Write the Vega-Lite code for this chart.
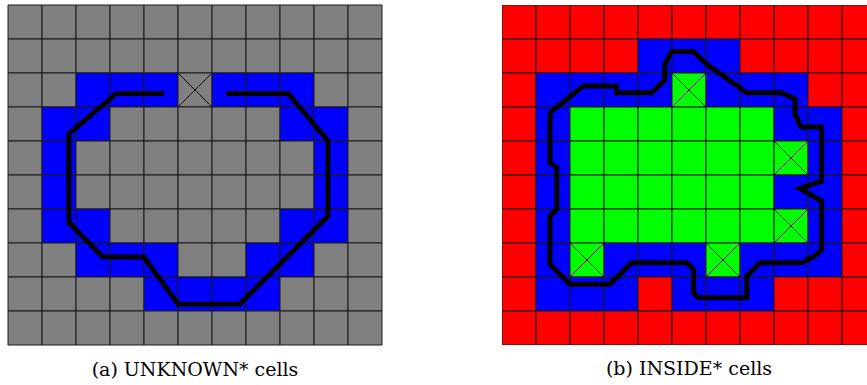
{
"$schema": "https://vega.github.io/schema/vega-lite/v6.json",
"padding": {"left": 7, "top": 4, "right": 0, "bottom": 0},
"config": {"view": {"stroke": null}},
"spacing": 119,
"resolve": {"scale": {"x": "independent", "y": "independent"}},
"datasets": {
"gridA": [
{"c":0,"r":0,"s":"unknown"},{"c":1,"r":0,"s":"unknown"},{"c":2,"r":0,"s":"unknown"},{"c":3,"r":0,"s":"unknown"},{"c":4,"r":0,"s":"unknown"},{"c":5,"r":0,"s":"unknown"},{"c":6,"r":0,"s":"unknown"},{"c":7,"r":0,"s":"unknown"},{"c":8,"r":0,"s":"unknown"},{"c":9,"r":0,"s":"unknown"},{"c":10,"r":0,"s":"unknown"},
{"c":0,"r":1,"s":"unknown"},{"c":1,"r":1,"s":"unknown"},{"c":2,"r":1,"s":"unknown"},{"c":3,"r":1,"s":"unknown"},{"c":4,"r":1,"s":"unknown"},{"c":5,"r":1,"s":"unknown"},{"c":6,"r":1,"s":"unknown"},{"c":7,"r":1,"s":"unknown"},{"c":8,"r":1,"s":"unknown"},{"c":9,"r":1,"s":"unknown"},{"c":10,"r":1,"s":"unknown"},
{"c":0,"r":2,"s":"unknown"},{"c":1,"r":2,"s":"unknown"},{"c":2,"r":2,"s":"border"},{"c":3,"r":2,"s":"border"},{"c":4,"r":2,"s":"border"},{"c":5,"r":2,"s":"unknown"},{"c":6,"r":2,"s":"border"},{"c":7,"r":2,"s":"border"},{"c":8,"r":2,"s":"border"},{"c":9,"r":2,"s":"unknown"},{"c":10,"r":2,"s":"unknown"},
{"c":0,"r":3,"s":"unknown"},{"c":1,"r":3,"s":"border"},{"c":2,"r":3,"s":"border"},{"c":3,"r":3,"s":"unknown"},{"c":4,"r":3,"s":"unknown"},{"c":5,"r":3,"s":"unknown"},{"c":6,"r":3,"s":"unknown"},{"c":7,"r":3,"s":"unknown"},{"c":8,"r":3,"s":"border"},{"c":9,"r":3,"s":"border"},{"c":10,"r":3,"s":"unknown"},
{"c":0,"r":4,"s":"unknown"},{"c":1,"r":4,"s":"border"},{"c":2,"r":4,"s":"unknown"},{"c":3,"r":4,"s":"unknown"},{"c":4,"r":4,"s":"unknown"},{"c":5,"r":4,"s":"unknown"},{"c":6,"r":4,"s":"unknown"},{"c":7,"r":4,"s":"unknown"},{"c":8,"r":4,"s":"unknown"},{"c":9,"r":4,"s":"border"},{"c":10,"r":4,"s":"unknown"},
{"c":0,"r":5,"s":"unknown"},{"c":1,"r":5,"s":"border"},{"c":2,"r":5,"s":"unknown"},{"c":3,"r":5,"s":"unknown"},{"c":4,"r":5,"s":"unknown"},{"c":5,"r":5,"s":"unknown"},{"c":6,"r":5,"s":"unknown"},{"c":7,"r":5,"s":"unknown"},{"c":8,"r":5,"s":"unknown"},{"c":9,"r":5,"s":"border"},{"c":10,"r":5,"s":"unknown"},
{"c":0,"r":6,"s":"unknown"},{"c":1,"r":6,"s":"border"},{"c":2,"r":6,"s":"border"},{"c":3,"r":6,"s":"unknown"},{"c":4,"r":6,"s":"unknown"},{"c":5,"r":6,"s":"unknown"},{"c":6,"r":6,"s":"unknown"},{"c":7,"r":6,"s":"unknown"},{"c":8,"r":6,"s":"border"},{"c":9,"r":6,"s":"border"},{"c":10,"r":6,"s":"unknown"},
{"c":0,"r":7,"s":"unknown"},{"c":1,"r":7,"s":"unknown"},{"c":2,"r":7,"s":"border"},{"c":3,"r":7,"s":"border"},{"c":4,"r":7,"s":"border"},{"c":5,"r":7,"s":"unknown"},{"c":6,"r":7,"s":"unknown"},{"c":7,"r":7,"s":"border"},{"c":8,"r":7,"s":"border"},{"c":9,"r":7,"s":"unknown"},{"c":10,"r":7,"s":"unknown"},
{"c":0,"r":8,"s":"unknown"},{"c":1,"r":8,"s":"unknown"},{"c":2,"r":8,"s":"unknown"},{"c":3,"r":8,"s":"unknown"},{"c":4,"r":8,"s":"border"},{"c":5,"r":8,"s":"border"},{"c":6,"r":8,"s":"border"},{"c":7,"r":8,"s":"border"},{"c":8,"r":8,"s":"unknown"},{"c":9,"r":8,"s":"unknown"},{"c":10,"r":8,"s":"unknown"},
{"c":0,"r":9,"s":"unknown"},{"c":1,"r":9,"s":"unknown"},{"c":2,"r":9,"s":"unknown"},{"c":3,"r":9,"s":"unknown"},{"c":4,"r":9,"s":"unknown"},{"c":5,"r":9,"s":"unknown"},{"c":6,"r":9,"s":"unknown"},{"c":7,"r":9,"s":"unknown"},{"c":8,"r":9,"s":"unknown"},{"c":9,"r":9,"s":"unknown"},{"c":10,"r":9,"s":"unknown"}
],
"gridB": [
{"c":0,"r":0,"s":"outside"},{"c":1,"r":0,"s":"outside"},{"c":2,"r":0,"s":"outside"},{"c":3,"r":0,"s":"outside"},{"c":4,"r":0,"s":"outside"},{"c":5,"r":0,"s":"outside"},{"c":6,"r":0,"s":"outside"},{"c":7,"r":0,"s":"outside"},{"c":8,"r":0,"s":"outside"},{"c":9,"r":0,"s":"outside"},{"c":10,"r":0,"s":"outside"},
{"c":0,"r":1,"s":"outside"},{"c":1,"r":1,"s":"outside"},{"c":2,"r":1,"s":"outside"},{"c":3,"r":1,"s":"outside"},{"c":4,"r":1,"s":"border"},{"c":5,"r":1,"s":"border"},{"c":6,"r":1,"s":"border"},{"c":7,"r":1,"s":"outside"},{"c":8,"r":1,"s":"outside"},{"c":9,"r":1,"s":"outside"},{"c":10,"r":1,"s":"outside"},
{"c":0,"r":2,"s":"outside"},{"c":1,"r":2,"s":"border"},{"c":2,"r":2,"s":"border"},{"c":3,"r":2,"s":"border"},{"c":4,"r":2,"s":"border"},{"c":5,"r":2,"s":"inside"},{"c":6,"r":2,"s":"border"},{"c":7,"r":2,"s":"border"},{"c":8,"r":2,"s":"border"},{"c":9,"r":2,"s":"outside"},{"c":10,"r":2,"s":"outside"},
{"c":0,"r":3,"s":"outside"},{"c":1,"r":3,"s":"border"},{"c":2,"r":3,"s":"inside"},{"c":3,"r":3,"s":"inside"},{"c":4,"r":3,"s":"inside"},{"c":5,"r":3,"s":"inside"},{"c":6,"r":3,"s":"inside"},{"c":7,"r":3,"s":"inside"},{"c":8,"r":3,"s":"border"},{"c":9,"r":3,"s":"border"},{"c":10,"r":3,"s":"outside"},
{"c":0,"r":4,"s":"outside"},{"c":1,"r":4,"s":"border"},{"c":2,"r":4,"s":"inside"},{"c":3,"r":4,"s":"inside"},{"c":4,"r":4,"s":"inside"},{"c":5,"r":4,"s":"inside"},{"c":6,"r":4,"s":"inside"},{"c":7,"r":4,"s":"inside"},{"c":8,"r":4,"s":"inside"},{"c":9,"r":4,"s":"border"},{"c":10,"r":4,"s":"outside"},
{"c":0,"r":5,"s":"outside"},{"c":1,"r":5,"s":"border"},{"c":2,"r":5,"s":"inside"},{"c":3,"r":5,"s":"inside"},{"c":4,"r":5,"s":"inside"},{"c":5,"r":5,"s":"inside"},{"c":6,"r":5,"s":"inside"},{"c":7,"r":5,"s":"inside"},{"c":8,"r":5,"s":"border"},{"c":9,"r":5,"s":"border"},{"c":10,"r":5,"s":"outside"},
{"c":0,"r":6,"s":"outside"},{"c":1,"r":6,"s":"border"},{"c":2,"r":6,"s":"inside"},{"c":3,"r":6,"s":"inside"},{"c":4,"r":6,"s":"inside"},{"c":5,"r":6,"s":"inside"},{"c":6,"r":6,"s":"inside"},{"c":7,"r":6,"s":"inside"},{"c":8,"r":6,"s":"inside"},{"c":9,"r":6,"s":"border"},{"c":10,"r":6,"s":"outside"},
{"c":0,"r":7,"s":"outside"},{"c":1,"r":7,"s":"border"},{"c":2,"r":7,"s":"inside"},{"c":3,"r":7,"s":"border"},{"c":4,"r":7,"s":"border"},{"c":5,"r":7,"s":"border"},{"c":6,"r":7,"s":"inside"},{"c":7,"r":7,"s":"border"},{"c":8,"r":7,"s":"border"},{"c":9,"r":7,"s":"border"},{"c":10,"r":7,"s":"outside"},
{"c":0,"r":8,"s":"outside"},{"c":1,"r":8,"s":"border"},{"c":2,"r":8,"s":"border"},{"c":3,"r":8,"s":"border"},{"c":4,"r":8,"s":"outside"},{"c":5,"r":8,"s":"border"},{"c":6,"r":8,"s":"border"},{"c":7,"r":8,"s":"border"},{"c":8,"r":8,"s":"outside"},{"c":9,"r":8,"s":"outside"},{"c":10,"r":8,"s":"outside"},
{"c":0,"r":9,"s":"outside"},{"c":1,"r":9,"s":"outside"},{"c":2,"r":9,"s":"outside"},{"c":3,"r":9,"s":"outside"},{"c":4,"r":9,"s":"outside"},{"c":5,"r":9,"s":"outside"},{"c":6,"r":9,"s":"outside"},{"c":7,"r":9,"s":"outside"},{"c":8,"r":9,"s":"outside"},{"c":9,"r":9,"s":"outside"},{"c":10,"r":9,"s":"outside"}
],
"crossA": [{"c":5,"r":2}],
"crossB": [{"c":5,"r":2},{"c":8,"r":4},{"c":8,"r":6},{"c":2,"r":7},{"c":6,"r":7}],
"lineA": [
{"i":0,"x":4.59,"y":2.6},{"i":1,"x":3.19,"y":2.6},{"i":2,"x":1.79,"y":3.79},{"i":3,"x":1.79,"y":6.4},{"i":4,"x":2.79,"y":7.41},{"i":5,"x":4.0,"y":7.41},{"i":6,"x":5.0,"y":8.8},{"i":7,"x":6.81,"y":8.8},{"i":8,"x":9.41,"y":6.21},{"i":9,"x":9.41,"y":4.0},{"i":10,"x":8.24,"y":2.6},{"i":11,"x":6.42,"y":2.6}
],
"lineB": [
{"i":0,"x":1.41,"y":3.17},{"i":1,"x":2.39,"y":2.38},{"i":2,"x":3.37,"y":2.38},{"i":3,"x":3.37,"y":2.58},{"i":4,"x":4.40,"y":2.58},{"i":5,"x":4.79,"y":2.21},{"i":6,"x":4.79,"y":1.74},{"i":7,"x":4.99,"y":1.37},{"i":8,"x":5.63,"y":1.37},{"i":9,"x":6.02,"y":1.74},{"i":10,"x":7.20,"y":2.58},{"i":11,"x":8.22,"y":2.58},{"i":12,"x":8.62,"y":2.77},{"i":13,"x":8.62,"y":3.21},{"i":14,"x":8.79,"y":3.59},{"i":15,"x":9.40,"y":3.59},{"i":16,"x":9.40,"y":5.18},{"i":17,"x":8.76,"y":5.39},{"i":18,"x":9.40,"y":5.76},{"i":19,"x":9.40,"y":7.19},{"i":20,"x":9.21,"y":7.38},{"i":21,"x":8.81,"y":7.58},{"i":22,"x":7.59,"y":7.58},{"i":23,"x":7.20,"y":7.97},{"i":24,"x":7.20,"y":8.61},{"i":25,"x":5.78,"y":8.61},{"i":26,"x":5.63,"y":8.46},{"i":27,"x":5.63,"y":7.77},{"i":28,"x":5.43,"y":7.58},{"i":29,"x":3.81,"y":7.58},{"i":30,"x":3.18,"y":8.21},{"i":31,"x":2.0,"y":8.21},{"i":32,"x":1.41,"y":7.63},{"i":33,"x":1.41,"y":6.21},{"i":34,"x":1.61,"y":6.01},{"i":35,"x":1.61,"y":4.78},{"i":36,"x":1.41,"y":4.64},{"i":37,"x":1.41,"y":3.17}
]
},
"hconcat": [
{
"width": 374, "height": 340,
"title": {"text": "(a) UNKNOWN* cells", "orient": "bottom", "anchor": "middle", "font": "DejaVu Serif", "fontSize": 19, "fontWeight": "normal", "color": "#000", "baseline": "alphabetic", "offset": 30},
"resolve": {"scale": {"x": "independent", "y": "independent"}},
"layer": [
{"layer": [
{"data": {"name": "gridA"}, "mark": {"type": "rect", "stroke": "#1a1a1a", "strokeWidth": 1},
"encoding": {
"x": {"field": "c", "type": "ordinal", "scale": {"domain": [0,1,2,3,4,5,6,7,8,9,10], "range": [0, 374], "paddingInner": 0, "paddingOuter": 0}, "axis": null},
"y": {"field": "r", "type": "ordinal", "scale": {"domain": [0,1,2,3,4,5,6,7,8,9], "range": [0, 340], "paddingInner": 0, "paddingOuter": 0}, "axis": null},
"color": {"field": "s", "type": "nominal", "scale": {"domain": ["unknown", "border", "inside", "outside"], "range": ["#808080", "#0000ff", "#00ff00", "#ff0000"]}, "legend": null}}},
{"data": {"name": "crossA"}, "mark": {"type": "point", "shape": "M-1,-1L1,1M-1,1L1,-1", "size": 1156, "filled": false, "color": "#000", "strokeWidth": 1, "opacity": 1},
"encoding": {
"x": {"field": "c", "type": "ordinal", "axis": null},
"y": {"field": "r", "type": "ordinal", "axis": null}}}
]},
{"data": {"name": "lineA"}, "mark": {"type": "line", "color": "#000", "strokeWidth": 5, "strokeJoin": "miter"},
"encoding": {
"x": {"field": "x", "type": "quantitative", "scale": {"domain": [0, 11], "range": [0, 374]}, "axis": null},
"y": {"field": "y", "type": "quantitative", "scale": {"domain": [0, 10], "range": [0, 340]}, "axis": null},
"order": {"field": "i", "type": "quantitative"}}}
]
},
{
"width": 367, "height": 340,
"title": {"text": "(b) INSIDE* cells", "orient": "bottom", "anchor": "middle", "font": "DejaVu Serif", "fontSize": 19, "fontWeight": "normal", "color": "#000", "baseline": "alphabetic", "offset": 30, "dx": 3.5},
"resolve": {"scale": {"x": "independent", "y": "independent"}},
"layer": [
{"layer": [
{"data": {"name": "gridB"}, "mark": {"type": "rect", "stroke": "#1a1a1a", "strokeWidth": 1, "clip": true},
"encoding": {
"x": {"field": "c", "type": "ordinal", "scale": {"domain": [0,1,2,3,4,5,6,7,8,9,10], "range": [0, 374], "paddingInner": 0, "paddingOuter": 0}, "axis": null},
"y": {"field": "r", "type": "ordinal", "scale": {"domain": [0,1,2,3,4,5,6,7,8,9], "range": [0, 340], "paddingInner": 0, "paddingOuter": 0}, "axis": null},
"color": {"field": "s", "type": "nominal", "scale": {"domain": ["unknown", "border", "inside", "outside"], "range": ["#808080", "#0000ff", "#00ff00", "#ff0000"]}, "legend": null}}},
{"data": {"name": "crossB"}, "mark": {"type": "point", "shape": "M-1,-1L1,1M-1,1L1,-1", "size": 1156, "filled": false, "color": "#000", "strokeWidth": 1, "opacity": 1},
"encoding": {
"x": {"field": "c", "type": "ordinal", "axis": null},
"y": {"field": "r", "type": "ordinal", "axis": null}}}
]},
{"data": {"name": "lineB"}, "mark": {"type": "line", "color": "#000", "strokeWidth": 5, "strokeJoin": "miter"},
"encoding": {
"x": {"field": "x", "type": "quantitative", "scale": {"domain": [0, 11], "range": [0, 374]}, "axis": null},
"y": {"field": "y", "type": "quantitative", "scale": {"domain": [0, 10], "range": [0, 340]}, "axis": null},
"order": {"field": "i", "type": "quantitative"}}}
]
}
]
}
